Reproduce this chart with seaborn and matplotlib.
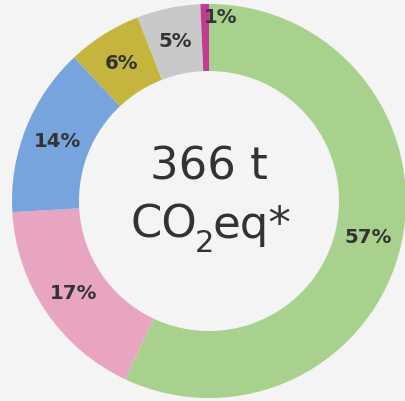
import matplotlib
matplotlib.use("Agg")
import matplotlib.pyplot as plt
import seaborn as sns
import numpy as np

# Data
categories = ["A", "B", "C", "D", "E", "F"]
shares = [57.0, 17.1, 13.9, 6.1, 5.2, 0.7]
labels = ["57%", "17%", "14%", "6%", "5%", "1%"]
colors = ["#a8d18d", "#e8a5c1", "#77a4dd", "#c5b43e", "#c9c9c9", "#c13b91"]
center_line1 = "366 t"
center_parts = ["CO", "2", "eq*"]

sns.set_theme(style="white")
plt.rcParams["font.family"] = ["DejaVu Sans"]

BG = "#f4f4f4"
TXT = "#333333"

W, H = 405, 402
fig = plt.figure(figsize=(W / 100, H / 100), dpi=100, facecolor=BG)
ax = fig.add_axes([0, 0, 1, 1])
ax.set_facecolor(BG)

R = 197.0
cx, cy = 209.0, 202.0

wedges, _ = ax.pie(shares, colors=colors, startangle=90, counterclock=False,
                   radius=1.0, wedgeprops=dict(width=0.34, linewidth=0))
ax.set_xlim(-cx / R, (W - cx) / R)
ax.set_ylim(-(H - cy) / R, cy / R)
ax.set_aspect("auto")
ax.axis("off")

LFS = 14.2
for w, lab, v in zip(wedges, labels, shares):
    ang = np.deg2rad((w.theta1 + w.theta2) / 2)
    if v < 2:
        r = 0.935
        x, y = r * np.cos(ang), r * np.sin(ang)
        ax.text(x - 0.005, y, lab, ha="left", va="center", fontsize=LFS,
                fontweight="bold", color=TXT)
    else:
        r = 0.83
        x, y = r * np.cos(ang), r * np.sin(ang)
        ax.text(x, y, lab, ha="center", va="center", fontsize=LFS,
                fontweight="bold", color=TXT)

ax.text(0, (cy - 180) / R, center_line1, ha="center", va="baseline",
        fontsize=32.4, color=TXT)

# second line: CO, subscript 2, eq*  (built piecewise)
renderer = fig.canvas.get_renderer()
base_y = (cy - 238) / R
sub_y = (cy - 252) / R
sizes = [32.4, 22.0, 32.4]
ys = [base_y, sub_y, base_y]
objs = []
for part, fs, yy in zip(center_parts, sizes, ys):
    t = ax.text(0, yy, part, ha="left", va="baseline", fontsize=fs, color=TXT)
    objs.append(t)
widths = []
for t in objs:
    bb = t.get_window_extent(renderer=renderer)
    widths.append(bb.width / R)
gap = -2.0 / R
total = sum(widths) + gap * 2
x0 = (211 - cx) / R - total / 2
for t, wd in zip(objs, widths):
    t.set_x(x0)
    x0 += wd + gap

fig.savefig("out.png", dpi=100, facecolor=BG)
